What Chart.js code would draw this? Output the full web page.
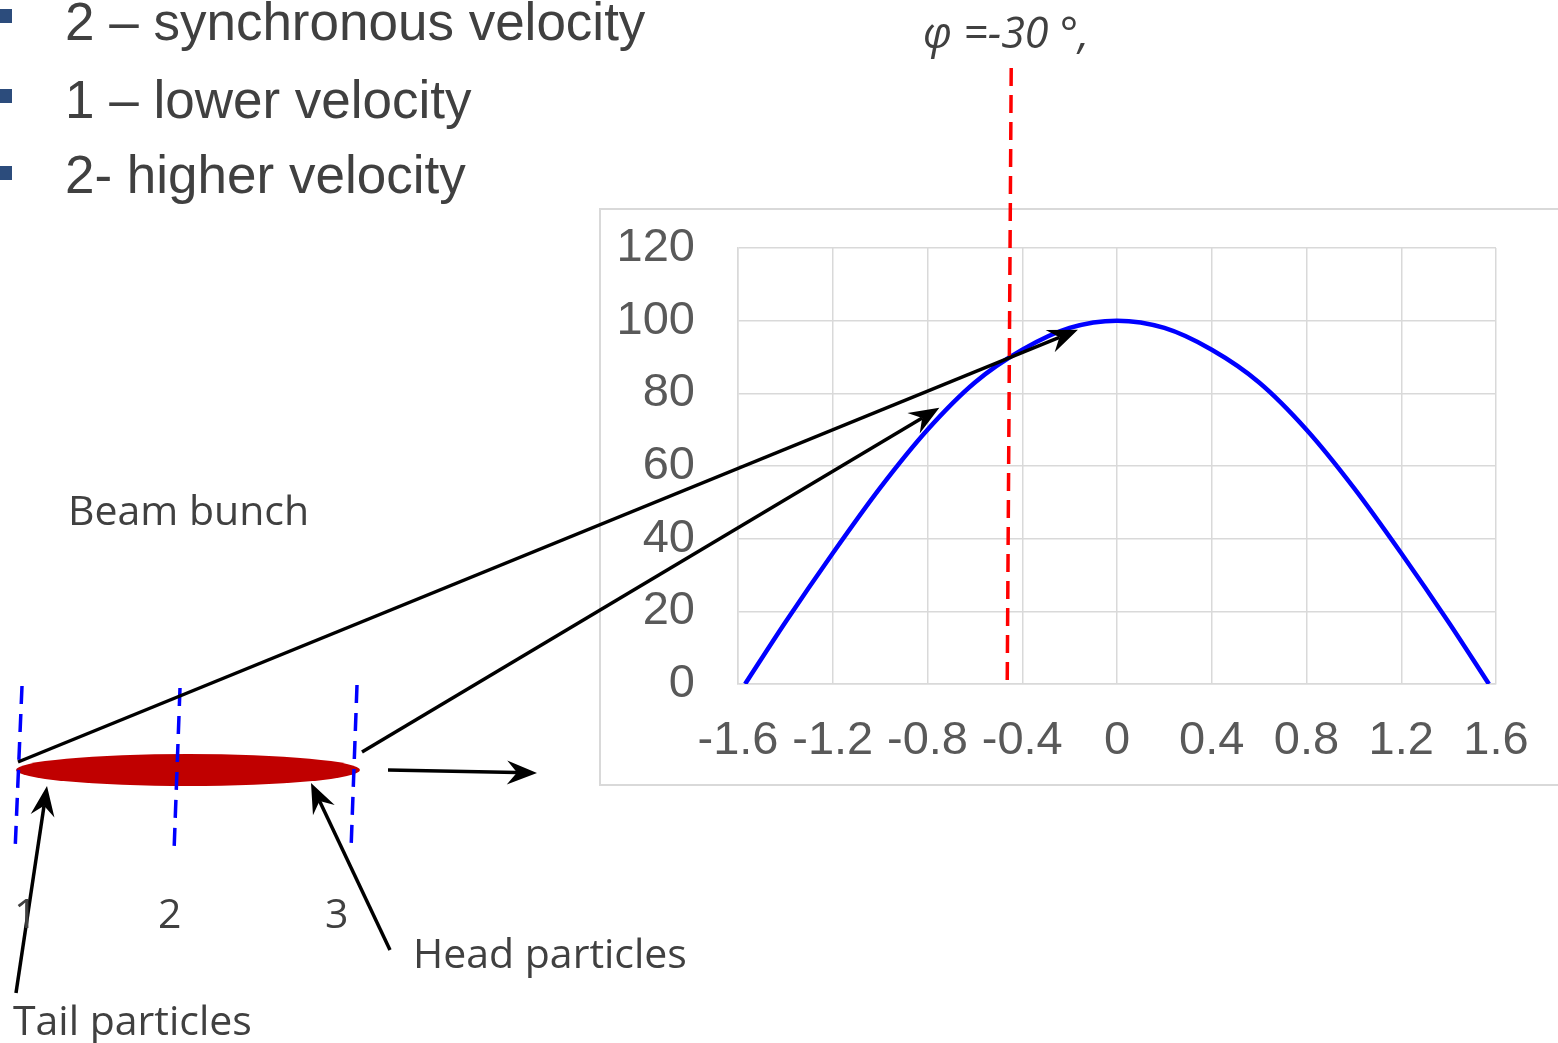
<!DOCTYPE html>
<html>
<head>
<meta charset="utf-8">
<script src="https://cdn.jsdelivr.net/npm/chart.js@4/dist/chart.umd.min.js"></script>
<style>
  html, body { margin:0; padding:0; background:#fff; }
  #wrap { position:relative; width:1558px; height:1043px; overflow:hidden; }
  #canvPhase { position:absolute; left:0; top:0; }
  .txt { position:absolute; white-space:nowrap; line-height:1; color:#404040; }
  .bullet { font-family:"Liberation Sans", Arial, sans-serif; font-size:53px; left:65px; }
  .sq { position:absolute; left:0; width:12px; height:14px; background:#2C4C7C; }
  .note { font-family:"Open Sans", sans-serif; font-size:41px; }
</style>
</head>
<body>
<div id="wrap">
  <canvas id="canvPhase" width="1558" height="1043"></canvas>

  <div class="sq" style="top:9px"></div>
  <div class="sq" style="top:89px"></div>
  <div class="sq" style="top:166px"></div>
  <div class="txt bullet" style="top:-5px">2 – synchronous velocity</div>
  <div class="txt bullet" style="top:73px">1 – lower velocity</div>
  <div class="txt bullet" style="top:148px">2- higher velocity</div>

  <div class="txt note" style="left:923px; top:10px; font-size:43px; font-style:italic;">φ =-30 °,</div>
  <div class="txt note" style="left:68px; top:489px;">Beam bunch</div>
  <div class="txt note" style="left:14px; top:892px;">1</div>
  <div class="txt note" style="left:158px; top:892px;">2</div>
  <div class="txt note" style="left:325px; top:892px;">3</div>
  <div class="txt note" style="left:413px; top:932px;">Head particles</div>
  <div class="txt note" style="left:13px; top:999px;">Tail particles</div>
</div>

<script>
// RF phase (rad) and accelerating field (%) along the cosine wave
const phaseRad = [-1.57, -1.4, -1.2, -1.0, -0.8, -0.6, -0.4, -0.2, 0, 0.2, 0.4, 0.6, 0.8, 1.0, 1.2, 1.4, 1.57];
const fieldPct = [0, 17, 36, 54, 70, 83, 92, 98, 100, 98, 92, 83, 70, 54, 36, 17, 0];

// axis ticks
const xTicks = [-1.6, -1.2, -0.8, -0.4, 0, 0.4, 0.8, 1.2, 1.6];
const yTicks = [0, 20, 40, 60, 80, 100, 120];

// synchronous phase marker
const syncPhase = -0.455;

// where the bunch arrows land on the wave (head of bunch, tail of bunch)
const hitPhase = [-0.165, -0.75];
const hitPct = [97.5, 76];

const GRID = '#D9D9D9';

// draws an arrow with a notched head
function arrow(ctx, x1, y1, x2, y2) {
    let ang = Math.atan2(y2 - y1, x2 - x1);
    let len = 30, half = 12, notch = 20;
    ctx.save();
    ctx.strokeStyle = '#000';
    ctx.fillStyle = '#000';
    ctx.lineWidth = 3.5;
    ctx.beginPath();
    ctx.moveTo(x1, y1);
    ctx.lineTo(x2 - Math.cos(ang) * notch, y2 - Math.sin(ang) * notch);
    ctx.stroke();
    ctx.translate(x2, y2);
    ctx.rotate(ang);
    ctx.beginPath();
    ctx.moveTo(0, 0);
    ctx.lineTo(-len, -half);
    ctx.lineTo(-notch, 0);
    ctx.lineTo(-len, half);
    ctx.closePath();
    ctx.fill();
    ctx.restore();
}

function dashed(ctx, x1, y1, x2, y2, color, dash) {
    ctx.save();
    ctx.strokeStyle = color;
    ctx.lineWidth = 3.5;
    ctx.setLineDash(dash);
    ctx.beginPath();
    ctx.moveTo(x1, y1);
    ctx.lineTo(x2, y2);
    ctx.stroke();
    ctx.restore();
}

const diagramPlugin = {
    id: 'bunchDiagram',
    beforeDraw(chart) {
        let ctx = chart.ctx;
        ctx.save();
        ctx.strokeStyle = GRID;
        ctx.lineWidth = 2;
        ctx.strokeRect(600, 209, 1000, 576);
        ctx.restore();
    },
    afterDatasetsDraw(chart) {
        let ctx = chart.ctx;
        let xs = chart.scales.x, ys = chart.scales.y;

        // synchronous phase line
        let px = xs.getPixelForValue(syncPhase);
        dashed(ctx, px + 2, 68, px - 2, chart.chartArea.bottom, '#FF0000', [18, 9]);

        // the bunch
        ctx.save();
        ctx.fillStyle = '#C00000';
        ctx.beginPath();
        ctx.ellipse(188, 770, 172, 16, 0, 0, Math.PI * 2);
        ctx.fill();
        ctx.restore();

        // slices 1, 2, 3
        dashed(ctx, 22, 686, 15, 852, '#0000FF', [18, 10]);
        dashed(ctx, 180, 688, 174, 852, '#0000FF', [18, 10]);
        dashed(ctx, 357, 685, 351, 850, '#0000FF', [18, 10]);

        // mapping the bunch onto the wave
        arrow(ctx, 18, 762, xs.getPixelForValue(hitPhase[0]), ys.getPixelForValue(hitPct[0]));
        arrow(ctx, 362, 752, xs.getPixelForValue(hitPhase[1]), ys.getPixelForValue(hitPct[1]));

        // direction of motion and labels
        arrow(ctx, 388, 770, 537, 773);
        arrow(ctx, 390, 950, 311, 783);
        arrow(ctx, 16, 993, 47, 786);
    }
};

const phaseChart = new Chart(document.getElementById('canvPhase'), {
    type: 'line',
    data: {
        datasets: [{
            label: 'Field',
            data: phaseRad.map((p, i) => ({x: p, y: fieldPct[i]})),
            borderColor: '#0000FF',
            borderWidth: 4.5,
            pointRadius: 0,
            cubicInterpolationMode: 'monotone',
            fill: false
        }]
    },
    options: {
        responsive: false,
        animation: false,
        events: [],
        layout: { padding: { left: 600, right: 62, top: 248, bottom: 259 } },
        plugins: { legend: { display: false }, tooltip: { enabled: false } },
        scales: {
            x: {
                type: 'linear',
                min: xTicks[0],
                max: xTicks[xTicks.length - 1],
                afterBuildTicks: (scale) => { scale.ticks = xTicks.map(v => ({value: v})); },
                afterFit: (scale) => { scale.height = 100; scale.paddingLeft = 0; scale.paddingRight = 0; },
                grid: { color: GRID, lineWidth: 1.5, drawTicks: false },
                border: { color: GRID, width: 1.5 },
                ticks: {
                    padding: 29,
                    color: '#595959',
                    font: { family: '"Liberation Sans", Arial, sans-serif', size: 47 },
                    callback: (v) => String(+(+v).toFixed(1)),
                    maxRotation: 0,
                    autoSkip: false
                }
            },
            y: {
                min: yTicks[0],
                max: yTicks[yTicks.length - 1],
                afterBuildTicks: (scale) => { scale.ticks = yTicks.map(v => ({value: v})); },
                afterFit: (scale) => { scale.width = 138; scale.paddingTop = 0; scale.paddingBottom = 0; },
                grid: { color: GRID, lineWidth: 1.5, drawTicks: false },
                border: { color: GRID, width: 1.5 },
                ticks: {
                    padding: 43,
                    color: '#595959',
                    font: { family: '"Liberation Sans", Arial, sans-serif', size: 47 }
                }
            }
        }
    },
    plugins: [diagramPlugin]
});
</script>
</body>
</html>
